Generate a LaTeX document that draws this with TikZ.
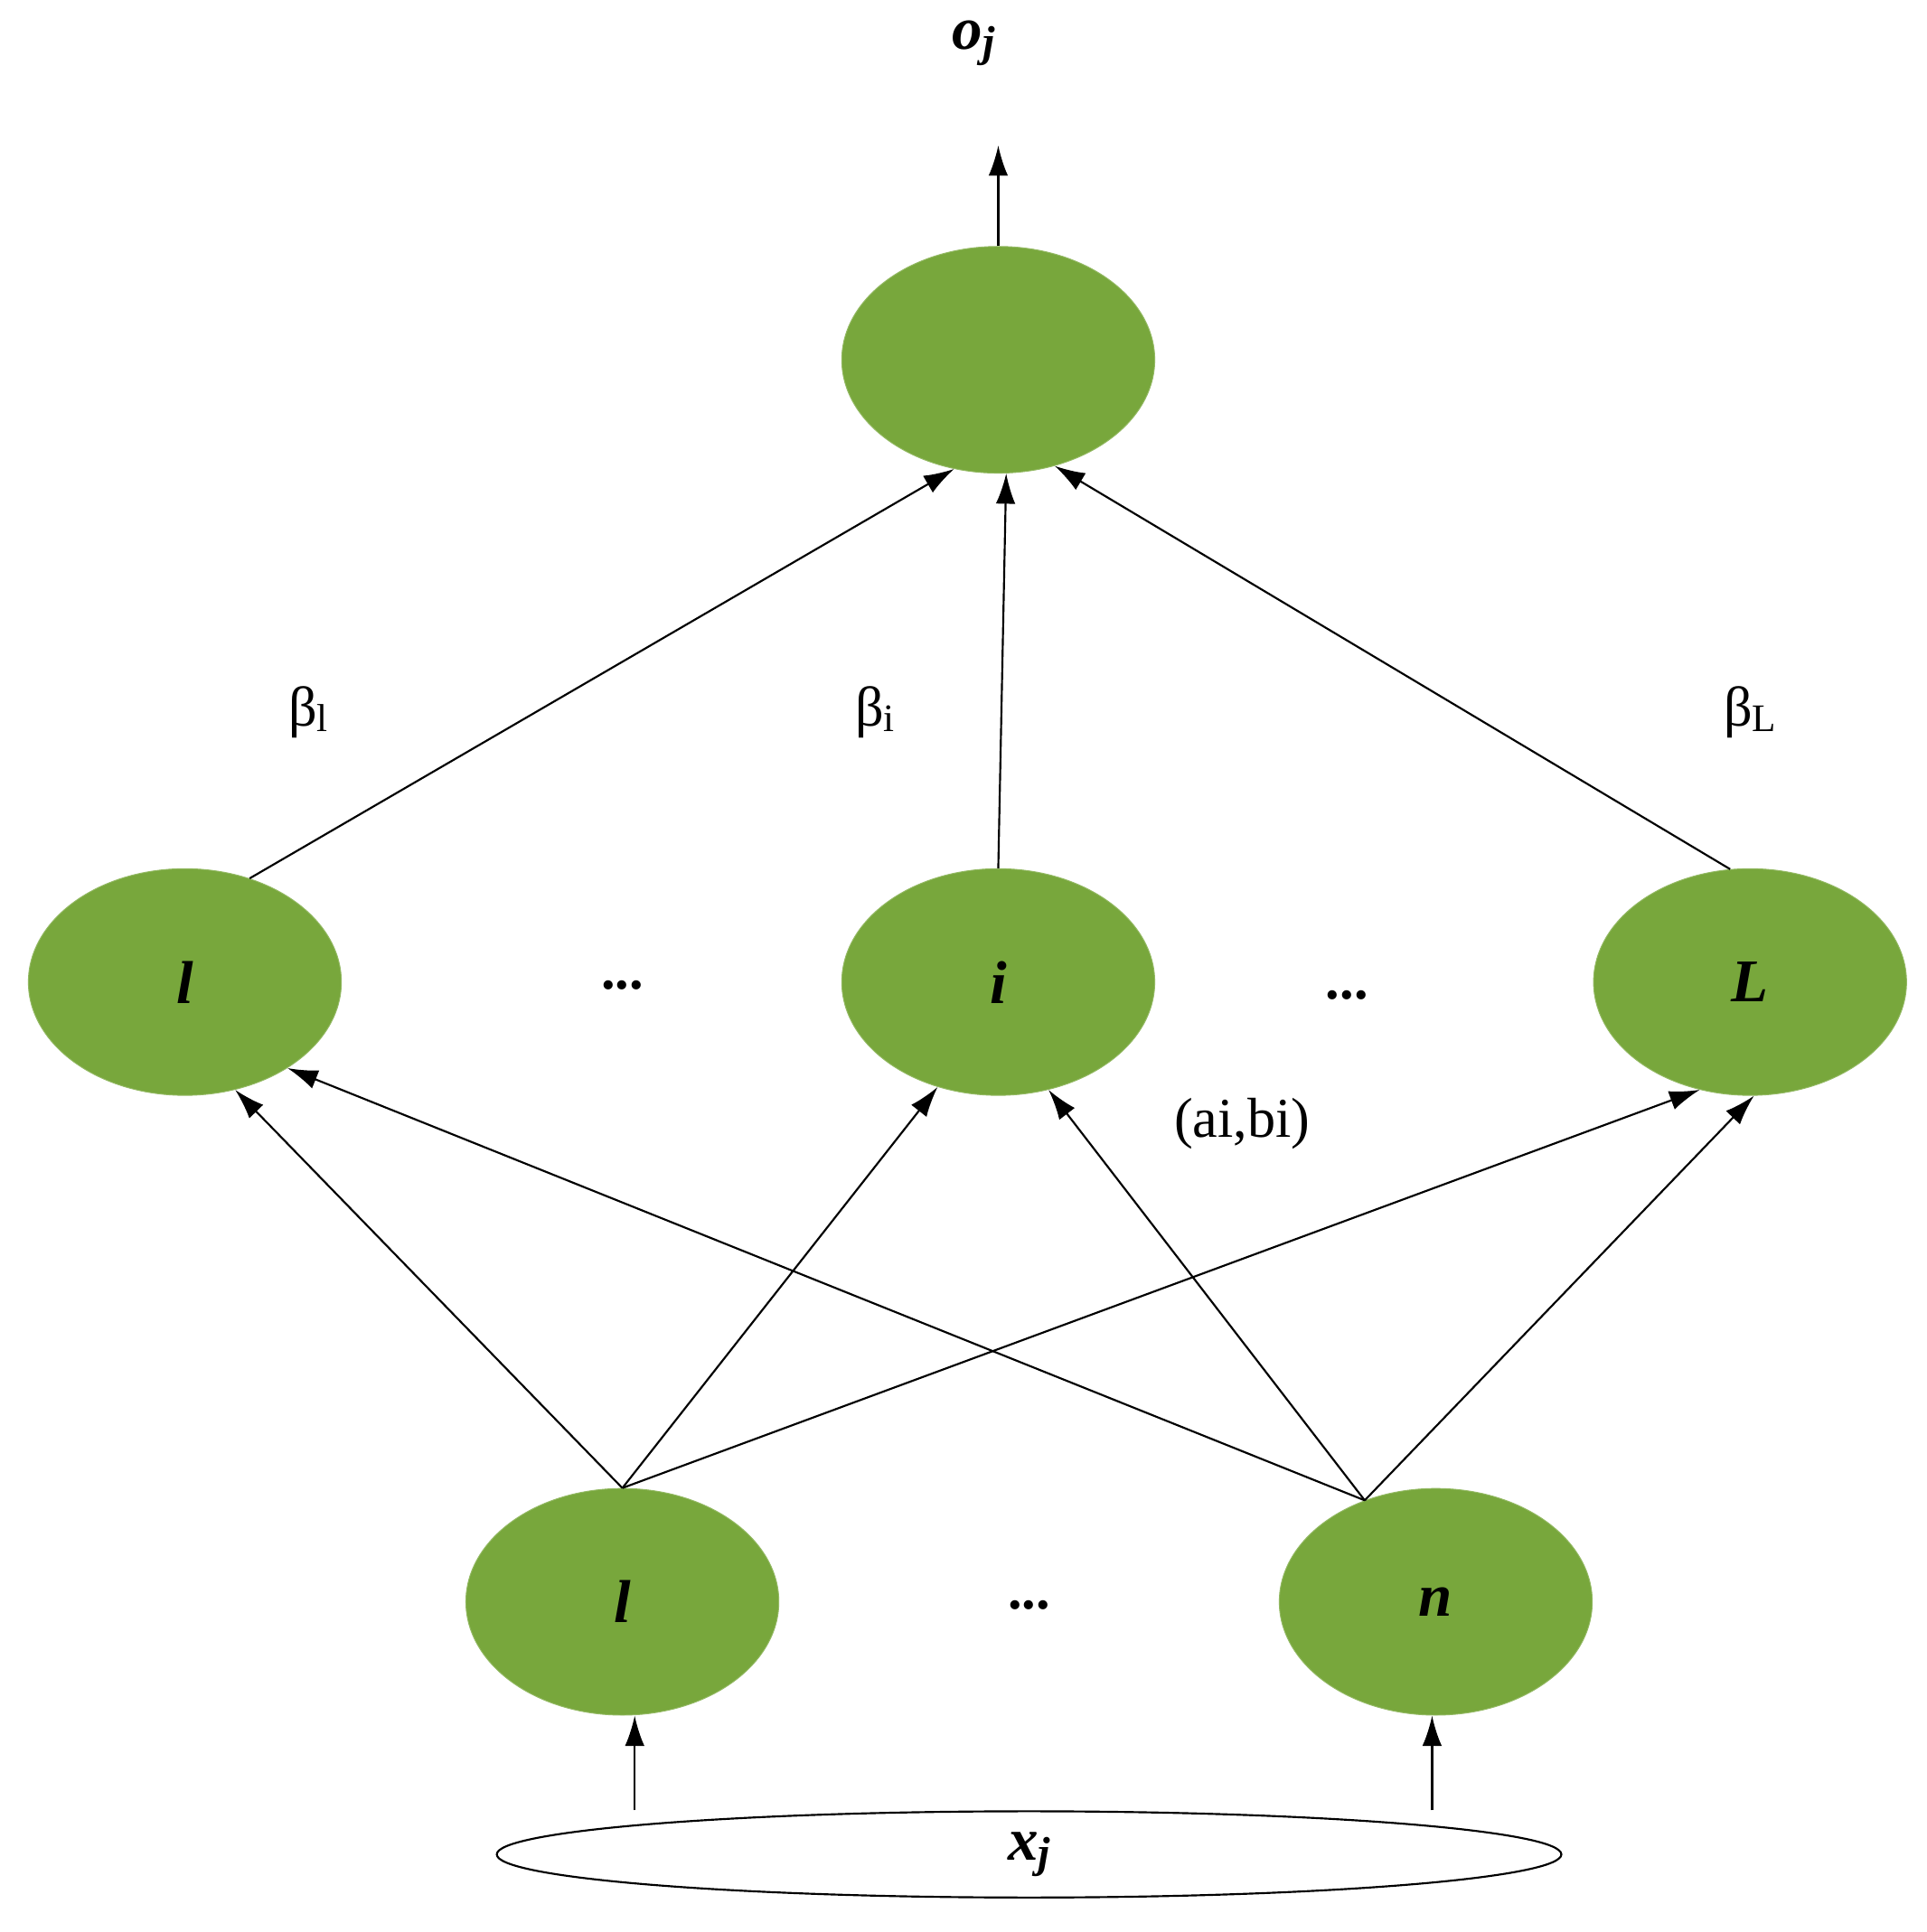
\documentclass[tikz,border=0pt]{standalone}
\usepackage{fontspec}
\setmainfont{Liberation Serif}
\usetikzlibrary{shapes.geometric,arrows.meta}
\definecolor{ng}{HTML}{78A73C}
\begin{document}
\begin{tikzpicture}[x=0.02cm,y=-0.02cm,
  gn/.style={ellipse,fill=ng,draw=ng!80!white,minimum width=254\pgflinewidth,inner sep=0,minimum width=5.08cm,minimum height=3.68cm,font=\fontsize{28}{30}\selectfont\bfseries\itshape},
  ar/.style={-{Latex[length=14pt,width=9pt]},line width=0.9pt},
  lb/.style={font=\fontsize{26}{28}\selectfont}]
\useasboundingbox (0,0) rectangle (1563,1568);
\node[gn] (top) at (810,292) {};
\node[gn] (h1) at (150,797) {l};
\node[gn] (hi) at (810,797) {i};
\node[gn] (hL) at (1420,797) {L};
\node[gn] (i1) at (505,1300) {l};
\node[gn] (in) at (1165,1300) {n};
\node[ellipse,draw,line width=0.9pt,minimum width=17.28cm,minimum height=1.4cm,inner sep=0,font=\fontsize{28}{30}\selectfont\bfseries\itshape] (x) at (835,1505) {x\raisebox{-0.25ex}{\fontsize{20}{22}\selectfont j}};
\node[font=\fontsize{28}{30}\selectfont\bfseries\itshape] (o) at (790,35) {o\raisebox{-0.25ex}{\fontsize{20}{22}\selectfont j}};
\coordinate (oa) at (810,118);
\node[lb] (d1) at (505,800) {\textbf{...}};
\node[lb] (d2) at (1093,808) {\textbf{...}};
\node[lb] (d3) at (835,1303) {\textbf{...}};
\node[lb] (b1) at (250,578) {β\raisebox{-0.2ex}{\fontsize{18}{20}\selectfont l}};
\node[lb] (b2) at (710,578) {β\raisebox{-0.2ex}{\fontsize{18}{20}\selectfont i}};
\node[lb] (b3) at (1420,578) {β\raisebox{-0.2ex}{\fontsize{18}{20}\selectfont L}};
\node[lb] (ab) at (1008,912) {(ai,bi)};
\draw[ar] (top.north) -- (oa);
\draw[ar] (h1.58) -- (top.-112);
\draw[ar] (hi.north) -- (top.-86);
\draw[ar] (hL.100) -- (top.-62);
\draw[ar] (i1.north) -- (h1.-65);
\draw[ar] (i1.north) -- (hi.-120);
\draw[ar] (i1.north) -- (hL.-115);
\draw[ar] (in.125) -- (h1.-40);
\draw[ar] (in.125) -- (hi.-65);
\draw[ar] (in.125) -- (hL.-88);
\draw[ar] (x.north -| i1.south) ++(10,0) coordinate (xa) -- (xa |- i1.south);
\draw[ar] (x.north -| in.south) ++(-3,0) coordinate (xb) -- (xb |- in.south);
\end{tikzpicture}
\end{document}
